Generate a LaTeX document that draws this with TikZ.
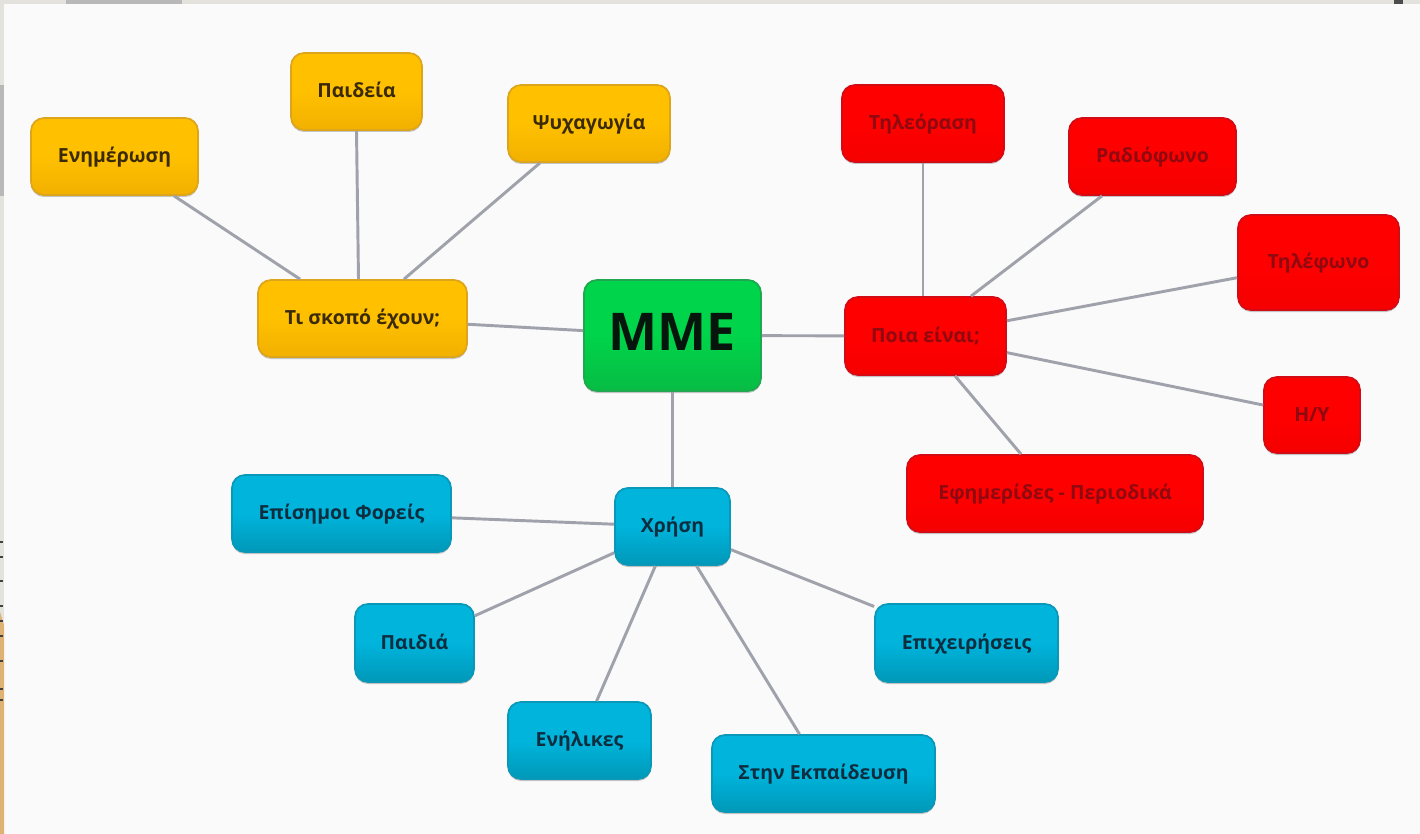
\documentclass[tikz,border=0pt]{standalone}
\usepackage{fontspec}
\setmainfont{Open Sans}
\usetikzlibrary{shadows,calc}
\definecolor{pagebg}{HTML}{FAFAFA}
\definecolor{edgebg}{HTML}{E4E2DD}
\definecolor{linkgray}{HTML}{A0A2AB}
\definecolor{tanstrip}{HTML}{DDB273}
\tikzset{
  x=0.75pt,y=-0.75pt,
  box/.style={rounded corners=13pt*0.75,line width=1.3pt,inner sep=0pt,
    text height=12pt,text depth=3pt,
    font=\fontsize{14.6pt}{18pt}\selectfont\bfseries,
    drop shadow={shadow xshift=0pt,shadow yshift=-1.5pt,opacity=.22,fill=black}},
  yellowbox/.style={box,draw=yellowedge,top color=yellowtop,bottom color=yellowbot,middle color=yellowtop,text=yellowtext},
  redbox/.style={box,draw=rededge,top color=redtop,bottom color=redbot,middle color=redtop,text=redtext},
  bluebox/.style={box,draw=blueedge,top color=bluetop,bottom color=bluebot,middle color=bluetop,text=bluetext},
  greenbox/.style={box,draw=greenedge,top color=greentop,bottom color=greenbot,middle color=greentop,text=greentext,
    text height=30pt,text depth=6.8pt,
    font=\fontsize{39pt}{46pt}\selectfont\bfseries},
  link/.style={draw=linkgray,line width=2.2pt},
}
\definecolor{yellowedge}{HTML}{DDA51C}
\definecolor{yellowtop}{HTML}{FFC000}
\definecolor{yellowbot}{HTML}{F2B000}
\definecolor{yellowtext}{HTML}{3A2A05}
\definecolor{rededge}{HTML}{D40A14}
\definecolor{redtop}{HTML}{FF0000}
\definecolor{redbot}{HTML}{F50000}
\definecolor{redtext}{HTML}{8E0A10}
\definecolor{blueedge}{HTML}{0A98B8}
\definecolor{bluetop}{HTML}{00B4DC}
\definecolor{bluebot}{HTML}{0098B8}
\definecolor{bluetext}{HTML}{0E2E40}
\definecolor{greenedge}{HTML}{1FA84F}
\definecolor{greentop}{HTML}{00D44A}
\definecolor{greenbot}{HTML}{07BC44}
\definecolor{greentext}{HTML}{07160D}
\newcommand{\mapbox}[7]{%
  \pgfmathsetmacro{\bw}{(#4-#2)*0.75}\pgfmathsetmacro{\bh}{(#5-#3)*0.75}%
  \node[#6,minimum width=\bw pt,minimum height=\bh pt] (#1) at ({(#2+#4)/2},{(#3+#5)/2}) {#7};}
\begin{document}
\begin{tikzpicture}
\useasboundingbox (0,0) rectangle (1420,834);
% page surround
\fill[edgebg] (0,0) rectangle (1420,834);
\fill[pagebg] (4,4) rectangle (1420,834);
\fill[black!28] (66,0) rectangle (182,4);
\fill[black!28] (0,85) rectangle (4,196);
\fill[black!70] (1394,0) rectangle (1403,4);
\fill[tanstrip] (0,612) -- (4,625) -- (4,834) -- (0,834) -- cycle;
\foreach \yy in {541,556,580,605,620,635,660,688,699}{\fill[black!75] (0,\yy) rectangle (3,\yy+2);}
% boxes
\mapbox{mme}{584}{280}{761}{391}{greenbox}{MME}
\mapbox{skopos}{258}{280}{467}{357}{yellowbox}{Τι σκοπό έχουν;}
\mapbox{enim}{31}{118}{198}{195}{yellowbox}{Ενημέρωση}
\mapbox{paid}{291}{53}{422}{130}{yellowbox}{Παιδεία}
\mapbox{psych}{508}{85}{670}{162}{yellowbox}{Ψυχαγωγία}
\mapbox{poia}{845}{297}{1006}{375}{redbox}{Ποια είναι;}
\mapbox{tv}{842}{85}{1004}{162}{redbox}{Τηλεόραση}
\mapbox{radio}{1069}{118}{1236}{195}{redbox}{Ραδιόφωνο}
\mapbox{phone}{1238}{215}{1399}{310}{redbox}{Τηλέφωνο}
\mapbox{pc}{1264}{377}{1360}{453}{redbox}{Η/Υ}
\mapbox{press}{907}{455}{1203}{532}{redbox}{Εφημερίδες - Περιοδικά}
\mapbox{xrisi}{615}{488}{730}{565}{bluebox}{Χρήση}
\mapbox{foreis}{232}{475}{451}{552}{bluebox}{Επίσημοι Φορείς}
\mapbox{kids}{355}{604}{474}{682}{bluebox}{Παιδιά}
\mapbox{adults}{508}{702}{651}{779}{bluebox}{Ενήλικες}
\mapbox{edu}{712}{735}{935}{812}{bluebox}{Στην Εκπαίδευση}
\mapbox{biz}{875}{604}{1058}{682}{bluebox}{Επιχειρήσεις}
% connectors
\draw[link] ($(enim.south)+(59.5,0)$) -- ($(skopos.north)+(-62.5,0)$);
\draw[link] (paid.south) -- ($(skopos.north)+(-4,0)$);
\draw[link] ($(psych.south)+(-49,0)$) -- ($(skopos.north)+(41.5,0)$);
\draw[link] (skopos) -- (mme);
\draw[link] (mme) -- (poia);
\draw[link] (mme) -- (xrisi);
\draw[link] (tv.south) -- (tv.south |- poia.north);
\draw[link] ($(radio.south)+(-50.5,0)$) -- ($(poia.north)+(45.5,0)$);
\draw[link] (phone) -- (poia);
\draw[link] (pc) -- (poia);
\draw[link] ($(press.north)+(-34,0)$) -- ($(poia.south)+(29.5,0)$);
\draw[link] (foreis) -- (xrisi);
\draw[link] (kids) -- (xrisi);
\draw[link] (adults) -- (xrisi);
\draw[link] (edu) -- (xrisi);
\draw[link] (biz) -- (xrisi);
\end{tikzpicture}
\end{document}
